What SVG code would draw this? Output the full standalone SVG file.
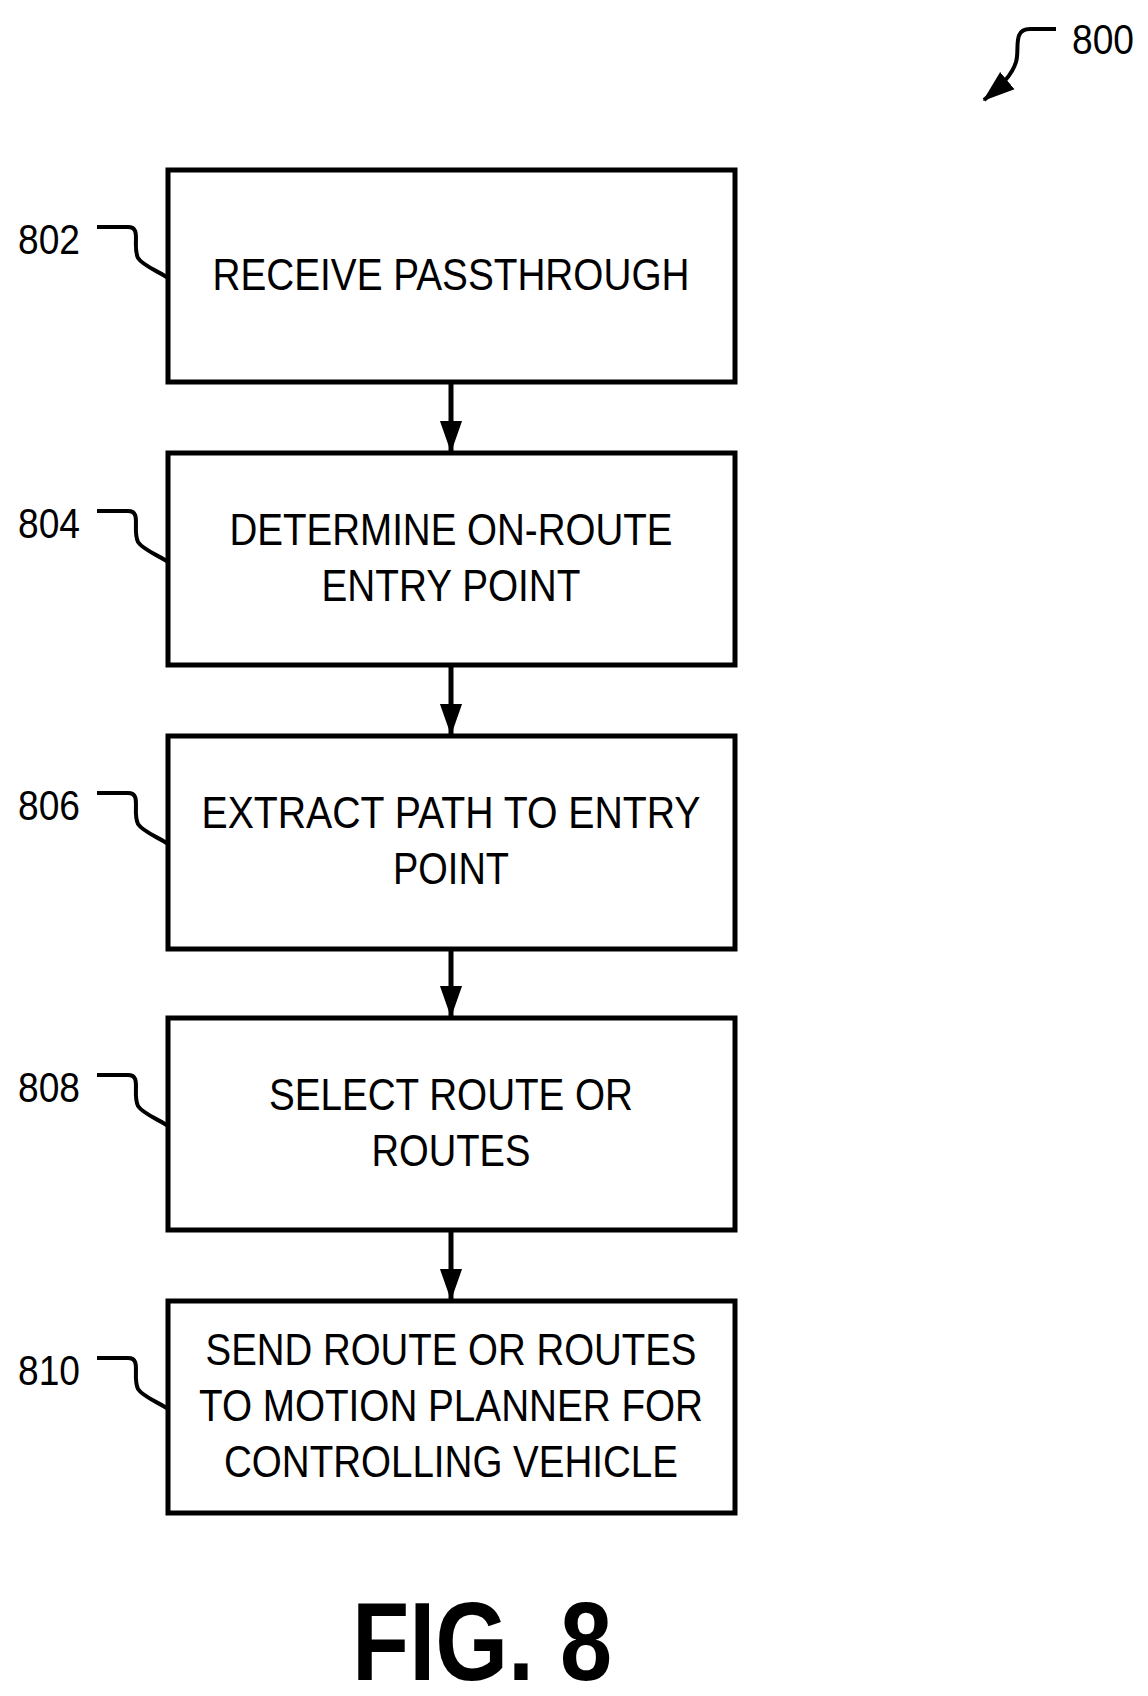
<svg xmlns="http://www.w3.org/2000/svg" width="1148" height="1696" viewBox="0 0 1148 1696">
<style>
.box{fill:#fff;stroke:#000;stroke-width:5}
.t{font-family:"Liberation Sans Narrow","Liberation Sans",Arial,sans-serif;font-size:44px;text-anchor:middle;fill:#000}
.l{font-family:"Liberation Sans Narrow","Liberation Sans",Arial,sans-serif;font-size:42px;fill:#000}
.c{fill:none;stroke:#000;stroke-width:5}
.s{fill:none;stroke:#000;stroke-width:4}
</style>
<defs>
<marker id="h" viewBox="0 0 10 10" refX="9.5" refY="5" markerWidth="32" markerHeight="32" orient="auto" markerUnits="userSpaceOnUse"><path d="M0,1.5 L10,5 L0,8.5 Z"/></marker></defs>
<g id="connectors">
<line class="c" x1="451" y1="382" x2="451" y2="451" marker-end="url(#h)"/>
<line class="c" x1="451" y1="665" x2="451" y2="734" marker-end="url(#h)"/>
<line class="c" x1="451" y1="949" x2="451" y2="1016" marker-end="url(#h)"/>
<line class="c" x1="451" y1="1230" x2="451" y2="1299" marker-end="url(#h)"/>
</g>
<g id="n800"><text class="l" x="1072" y="54" textLength="62" lengthAdjust="spacingAndGlyphs">800</text><path class="s" d="M1056,29 L1030,29 C1012,29 1020,50 1016,62 C1012,75 1002,85 984,100" marker-end="url(#h)"/></g>
<g id="n802"><rect class="box" x="168" y="170" width="567" height="212"/><text class="t" x="451" y="290" textLength="477" lengthAdjust="spacingAndGlyphs">RECEIVE PASSTHROUGH</text><text class="l" x="18" y="254" textLength="62" lengthAdjust="spacingAndGlyphs">802</text><path class="s" d="M97,227 L128,227 C142,227 132,245 138,258 C143,266 160,272 168,278"/></g>
<g id="n804"><rect class="box" x="168" y="453" width="567" height="212"/><text class="t" x="451" y="545" textLength="443" lengthAdjust="spacingAndGlyphs">DETERMINE ON-ROUTE</text><text class="t" x="451" y="601" textLength="259" lengthAdjust="spacingAndGlyphs">ENTRY POINT</text><text class="l" x="18" y="538" textLength="62" lengthAdjust="spacingAndGlyphs">804</text><path class="s" d="M97,511 L128,511 C142,511 132,529 138,542 C143,550 160,556 168,562"/></g>
<g id="n806"><rect class="box" x="168" y="736" width="567" height="213"/><text class="t" x="451" y="828" textLength="499" lengthAdjust="spacingAndGlyphs">EXTRACT PATH TO ENTRY</text><text class="t" x="451" y="884" textLength="116" lengthAdjust="spacingAndGlyphs">POINT</text><text class="l" x="18" y="820" textLength="62" lengthAdjust="spacingAndGlyphs">806</text><path class="s" d="M97,793 L128,793 C142,793 132,811 138,824 C143,832 160,838 168,844"/></g>
<g id="n808"><rect class="box" x="168" y="1018" width="567" height="212"/><text class="t" x="451" y="1110" textLength="364" lengthAdjust="spacingAndGlyphs">SELECT ROUTE OR</text><text class="t" x="451" y="1166" textLength="159" lengthAdjust="spacingAndGlyphs">ROUTES</text><text class="l" x="18" y="1102" textLength="62" lengthAdjust="spacingAndGlyphs">808</text><path class="s" d="M97,1075 L128,1075 C142,1075 132,1093 138,1106 C143,1114 160,1120 168,1126"/></g>
<g id="n810"><rect class="box" x="168" y="1301" width="567" height="212"/><text class="t" x="451" y="1365" textLength="491" lengthAdjust="spacingAndGlyphs">SEND ROUTE OR ROUTES</text><text class="t" x="451" y="1421" textLength="504" lengthAdjust="spacingAndGlyphs">TO MOTION PLANNER FOR</text><text class="t" x="451" y="1477" textLength="454" lengthAdjust="spacingAndGlyphs">CONTROLLING VEHICLE</text><text class="l" x="18" y="1385" textLength="62" lengthAdjust="spacingAndGlyphs">810</text><path class="s" d="M97,1358 L128,1358 C142,1358 132,1376 138,1389 C143,1397 160,1403 168,1409"/></g>
<text x="482" y="1680" text-anchor="middle" font-family="Liberation Sans Narrow,Liberation Sans,Arial,sans-serif" font-weight="bold" font-size="112" textLength="260" lengthAdjust="spacingAndGlyphs">FIG. 8</text>
</svg>
